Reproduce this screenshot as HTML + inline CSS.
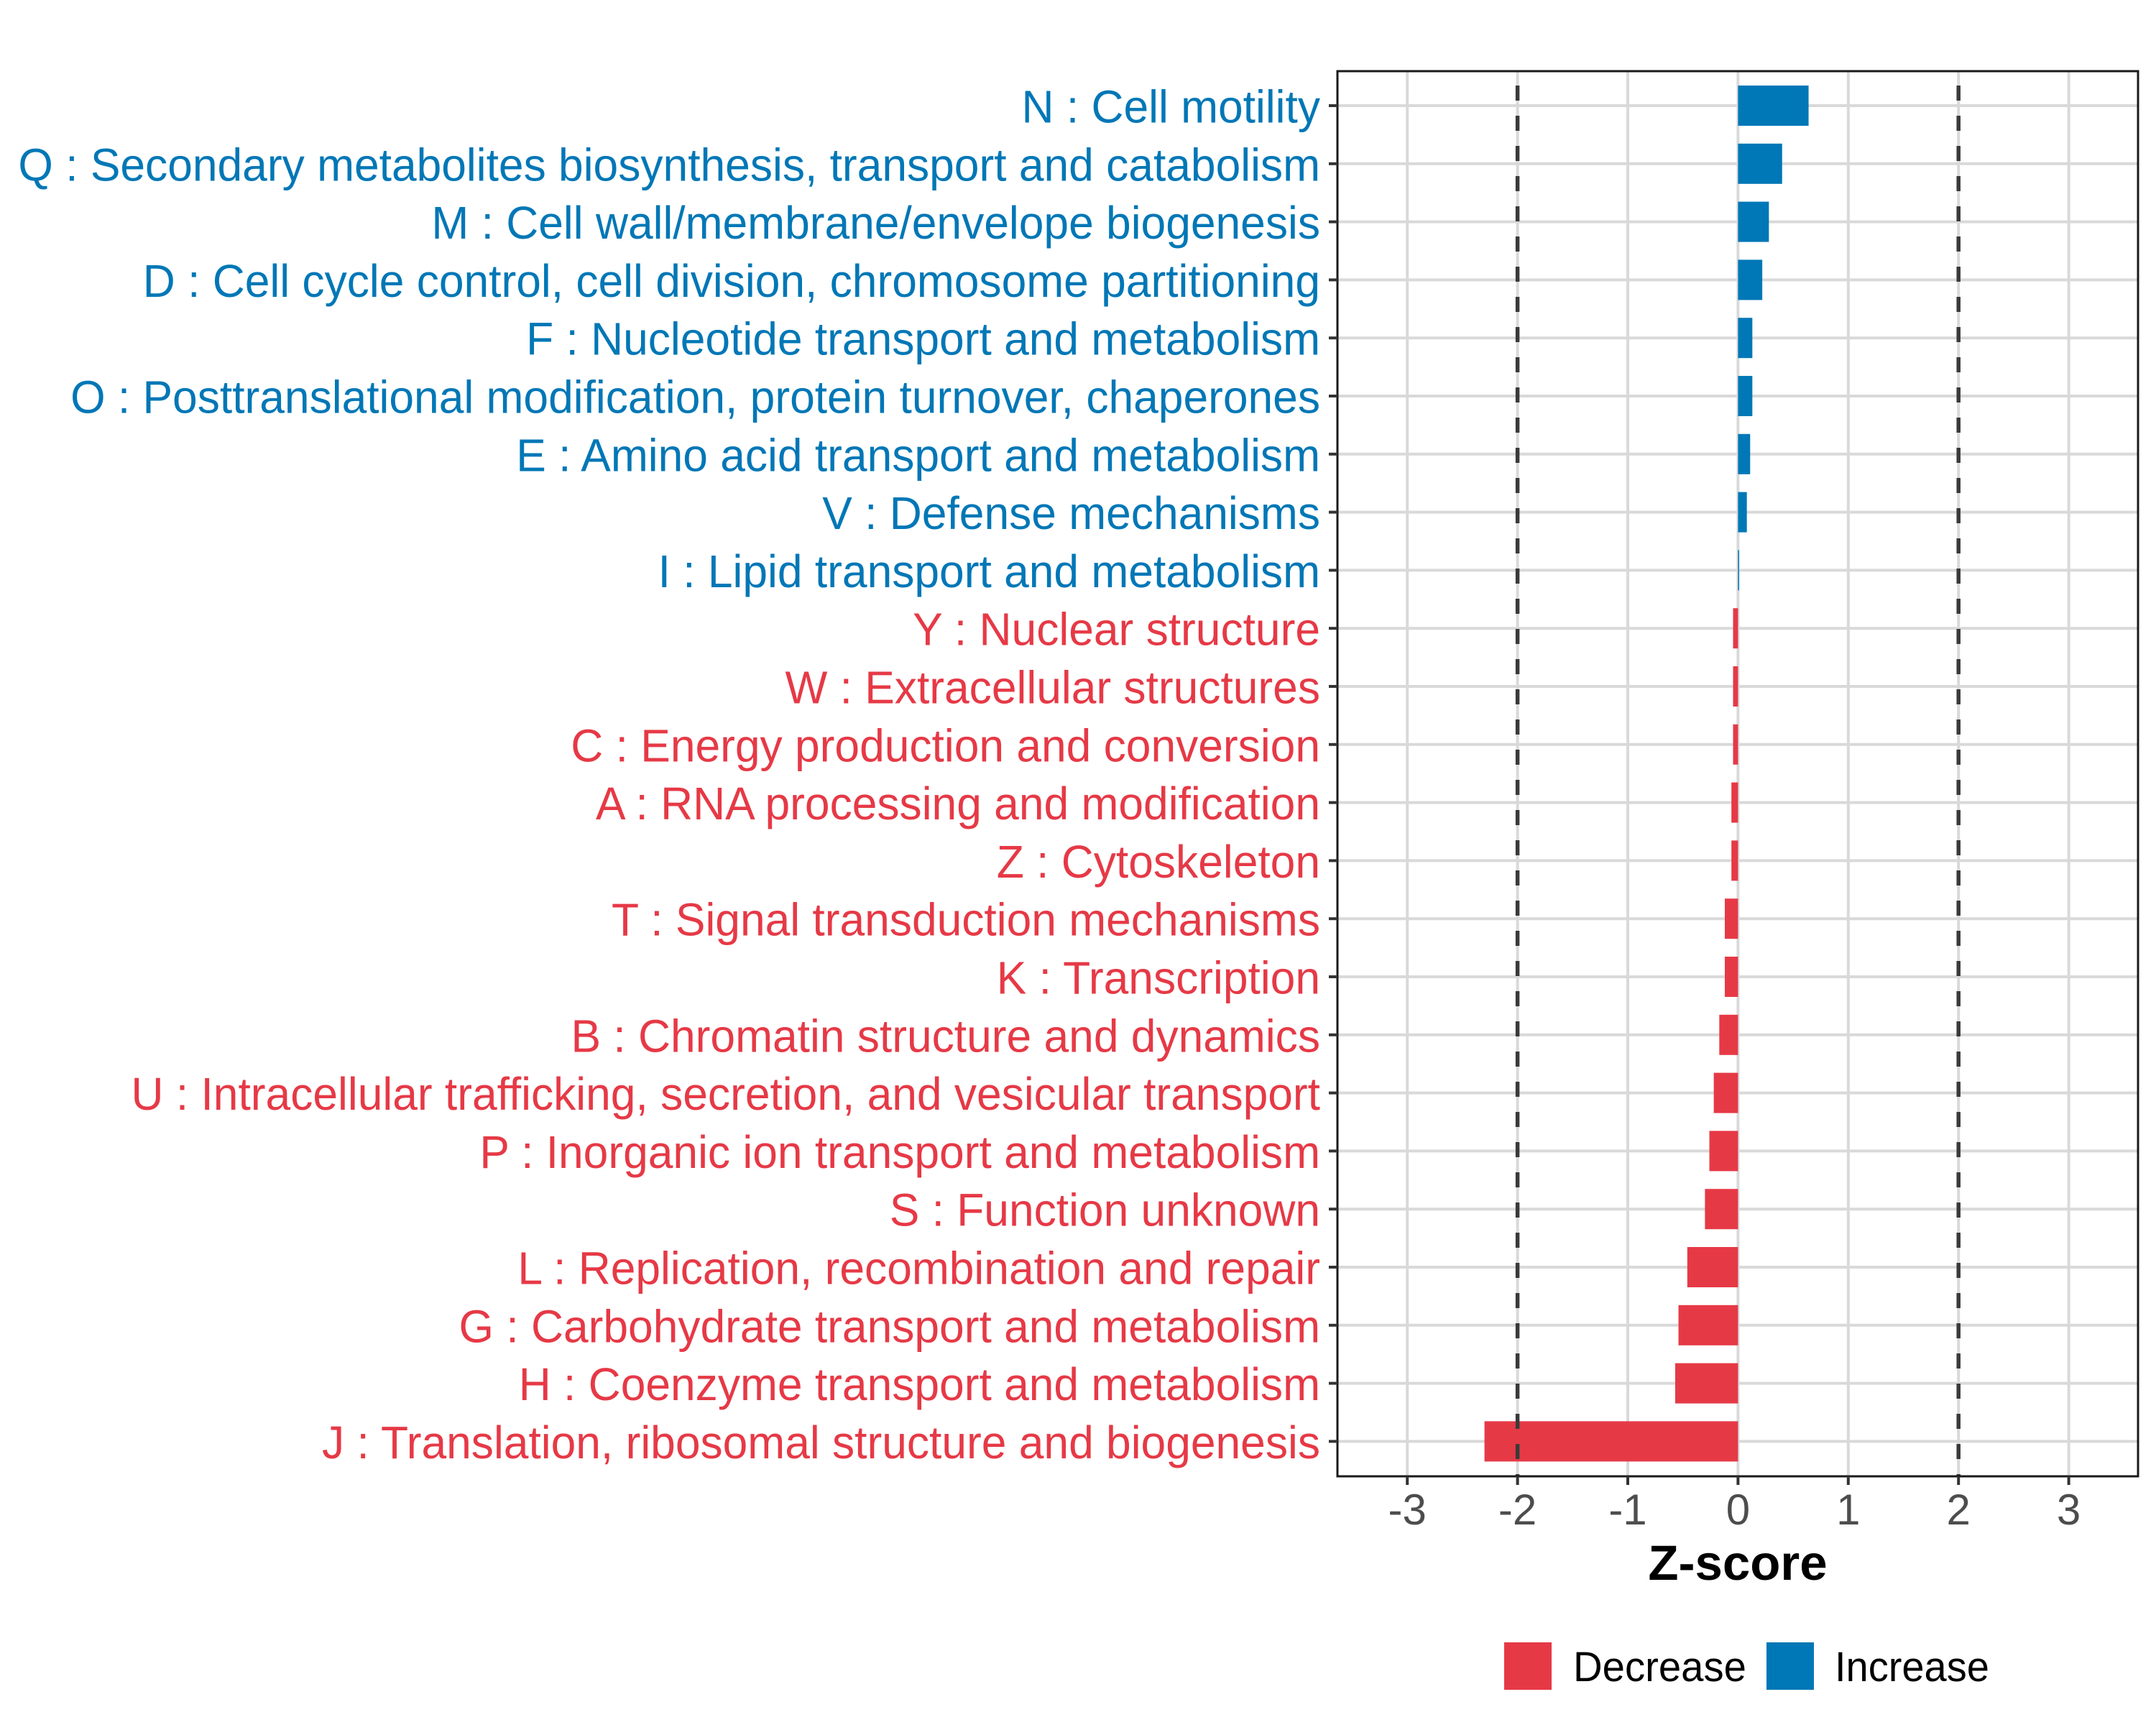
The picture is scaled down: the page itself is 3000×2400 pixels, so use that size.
<!DOCTYPE html>
<html><head><meta charset="utf-8">
<style>
html,body{margin:0;padding:0;background:#fff;}
svg{display:block;}
text{font-family:"Liberation Sans",Arial,sans-serif;}
</style></head>
<body>
<svg id="chart" width="3000" height="2400" viewBox="0 0 3000 2400" xmlns="http://www.w3.org/2000/svg">
<rect x="0" y="0" width="3000" height="2400" fill="#fff"/>
<g id="grid"></g>
<g id="bars"></g>
<g id="refs"></g>
<rect x="1861" y="99" width="1114" height="1955" fill="none" stroke="#1a1a1a" stroke-width="3"/>
<g id="ylabels"></g>
<g id="xticks"></g>
<text x="2418" y="2198" font-size="69" font-weight="bold" text-anchor="middle" fill="#000">Z-score</text>
<g>
<g>
<rect x="2093" y="2285" width="66" height="66" fill="#E63946"/>
<text id="lgd1" x="2189" y="2339" font-size="58" fill="#000">Decrease</text>
</g>
<g>
<rect x="2458" y="2285" width="66" height="66" fill="#0077B6"/>
<text id="lgd2" x="2553" y="2339" font-size="58" fill="#000">Increase</text>
</g>
</g>
</svg>
<script>
const categories = [
 "N : Cell motility",
 "Q : Secondary metabolites biosynthesis, transport and catabolism",
 "M : Cell wall/membrane/envelope biogenesis",
 "D : Cell cycle control, cell division, chromosome partitioning",
 "F : Nucleotide transport and metabolism",
 "O : Posttranslational modification, protein turnover, chaperones",
 "E : Amino acid transport and metabolism",
 "V : Defense mechanisms",
 "I : Lipid transport and metabolism",
 "Y : Nuclear structure",
 "W : Extracellular structures",
 "C : Energy production and conversion",
 "A : RNA processing and modification",
 "Z : Cytoskeleton",
 "T : Signal transduction mechanisms",
 "K : Transcription",
 "B : Chromatin structure and dynamics",
 "U : Intracellular trafficking, secretion, and vesicular transport",
 "P : Inorganic ion transport and metabolism",
 "S : Function unknown",
 "L : Replication, recombination and repair",
 "G : Carbohydrate transport and metabolism",
 "H : Coenzyme transport and metabolism",
 "J : Translation, ribosomal structure and biogenesis"
];
const zscores = [0.64,0.40,0.28,0.22,0.13,0.13,0.11,0.08,0.01,-0.045,-0.045,-0.045,-0.06,-0.06,-0.12,-0.12,-0.17,-0.22,-0.26,-0.30,-0.46,-0.54,-0.57,-2.30];
const xTicks = [-3,-2,-1,0,1,2,3];
const xTickLabels = ["-3","-2","-1","0","1","2","3"];
const refLines = [-2,2];

const NS="http://www.w3.org/2000/svg";
const px0=1861, px1=2975, py0=99, py1=2054;
const zeroX=2418.4, unit=153.4;
const row0=147, rowStep=80.8, barH=56;
function xScale(v){return zeroX+v*unit;}
function yScale(i){return row0+i*rowStep;}
function mk(tag,attrs,parent){const e=document.createElementNS(NS,tag);for(const k in attrs)e.setAttribute(k,attrs[k]);parent.appendChild(e);return e;}
const grid=document.getElementById('grid'), bars=document.getElementById('bars'), refs=document.getElementById('refs'), yl=document.getElementById('ylabels'), xt=document.getElementById('xticks');
const BLUE="#0077B6", RED="#E63946";

xTicks.forEach((t,i)=>{
  const x=xScale(t);
  const g=mk('line',{x1:x,x2:x,y1:py0,y2:py1,stroke:"#d9d9d9","stroke-width":4},grid);
  
  
  const tk=mk('line',{x1:x,x2:x,y1:py1,y2:py1+12,stroke:"#333","stroke-width":4},xt);
  
  
  const lb=mk('text',{x:x,y:2121,"font-size":60,"text-anchor":"middle",fill:"#4d4d4d"},xt);
  lb.textContent=xTickLabels[i];
  
  
});
categories.forEach((c,i)=>{
  const y=yScale(i);
  const g=mk('line',{x1:px0,x2:px1,y1:y,y2:y,stroke:"#d9d9d9","stroke-width":4},grid);
  
  
});
zscores.forEach((v,i)=>{
  const y=yScale(i);
  const x0=xScale(Math.min(0,v)), x1=xScale(Math.max(0,v));
  const r=mk('rect',{x:x0,y:y-barH/2,width:Math.max(x1-x0,1.5),height:barH,fill:v>=0?BLUE:RED},bars);
  
  
});
refLines.forEach(v=>{
  const x=xScale(v);
  const l=mk('line',{x1:x,x2:x,y1:py0,y2:py1,stroke:"#3a3a3a","stroke-width":5.5,"stroke-dasharray":"21 21","stroke-dashoffset":"-20"},refs);
  
  
});
const labels=[];
categories.forEach((c,i)=>{
  const y=yScale(i);
  const tk=mk('line',{x1:1849,x2:px0,y1:y,y2:y,stroke:"#333","stroke-width":4},yl);
  
  
  const t=mk('text',{x:0,y:0,"font-size":64,"text-anchor":"end",fill:zscores[i]>=0?BLUE:RED},yl);
  t.textContent=c;
  
  
  labels.push([t,y]);
});
const w=labels[1][0].getComputedTextLength();
const k=w>0?1812/w:1;
labels.forEach(([t,y])=>{t.setAttribute('transform','translate(1837,'+(y+23.5)+') scale('+k+',1)');});
[["lgd1",2430-2189],["lgd2",2768-2553]].forEach(([id,tw])=>{const e=document.getElementById(id);const ww=e.getComputedTextLength();if(ww>0){const s=tw/ww;const x=+e.getAttribute('x');e.setAttribute('transform','translate('+x+',0) scale('+s+',1) translate('+(-x)+',0)');}});
</script>
</body></html>
